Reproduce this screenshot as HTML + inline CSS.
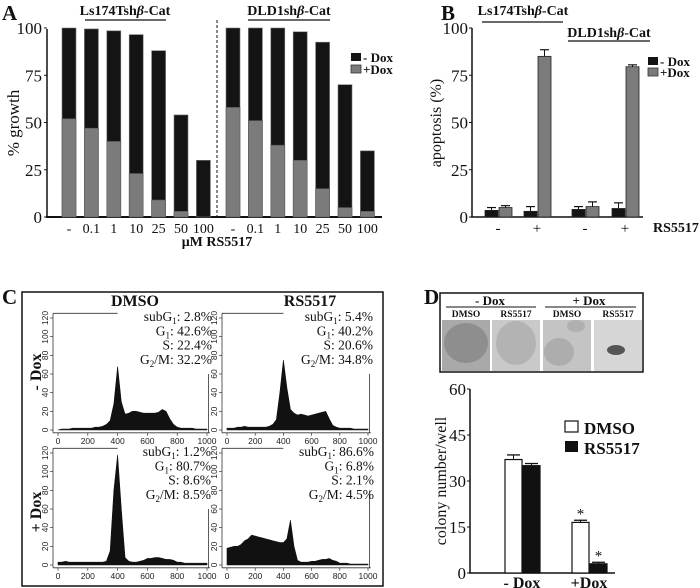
<!DOCTYPE html>
<html><head><meta charset="utf-8">
<style>
html,body{margin:0;padding:0;background:#fff;}
svg{display:block;}
text{font-family:"Liberation Serif",serif;fill:#111;}
.b{font-weight:bold;}
.s{font-family:"Liberation Sans",sans-serif;font-size:8.5px;fill:#222;}
</style></head>
<body>
<svg id="fig" width="700" height="588" viewBox="0 0 700 588" xmlns="http://www.w3.org/2000/svg">
<!-- Panel letters -->
<text x="2" y="20" font-size="21" class="b">A</text>
<text x="441" y="20" font-size="21" class="b">B</text>
<text x="2" y="304" font-size="21" class="b">C</text>
<text x="424" y="304" font-size="21" class="b">D</text>

<g id="pA"></g>
<g id="pB"></g>
<g id="pC"></g>
<g id="pD"></g>
</svg>
<script>
// ---------- Panel A data ----------
const aCats = ["-","0.1","1","10","25","50","100"];
const aLsMinus = [100,99.5,98.5,96.5,88,54,30];
const aLsPlus  = [52,47,40,23,9,3,0];
const aDldMinus = [100,100,100,98,92.5,70,35];
const aDldPlus  = [58,51,38,30,15,5,3];
const aTicks = [0,25,50,75,100];
// ---------- Panel B data ----------
const bCats = ["-","+","-","+"];
const bMinus = [3.5,3,4,4.5];
const bMinusErr = [1.5,2.5,1.5,3];
const bPlus = [5,85,5.5,79.5];
const bPlusErr = [1,3.5,2.5,1];
const bTicks = [0,25,50,75,100];
// ---------- Panel C data (counts per 25-unit bin, 0..1000) ----------
const cTL = [0,1,1,1,2,2,2,2,2,2,3,3,4,6,10,28,68,30,17,18,20,20,19,18,18,18,18,19,22,20,12,6,3,2,2,2,2,1,1,1,1];
const cTR = [2,2,2,3,3,4,3,3,3,3,3,3,4,6,11,40,75,45,22,18,16,17,16,15,16,17,18,19,20,12,5,3,2,2,2,2,1,1,1,1,1];
const cBL = [3,3,4,3,3,3,3,3,3,3,3,3,3,4,15,80,118,60,8,4,3,3,4,5,7,7,8,8,7,6,6,5,3,3,2,2,2,2,2,2,2];
const cBR = [18,19,20,20,22,26,28,32,31,30,29,28,27,26,25,24,24,28,48,20,5,3,3,3,4,4,5,6,6,7,5,4,2,2,2,1,1,1,1,1,1];
const cTicksY = [0,20,40,60,80,100,120];
const cTicksX = [0,200,400,600,800,1000];
// ---------- Panel D data ----------
const dCats = ["- Dox","+Dox"];
const dDmso = [37,16.5];
const dDmsoErr = [1.5,0.7];
const dRs = [35,3];
const dRsErr = [0.7,0.5];
const dTicks = [0,15,30,45,60];

const NS="http://www.w3.org/2000/svg";
function mk(parent,tag,attrs,txt){const e=document.createElementNS(NS,tag);for(const k in attrs)e.setAttribute(k,attrs[k]);if(txt!==undefined)e.textContent=txt;parent.appendChild(e);return e;}

// ===== Panel A =====
(function(){
const g=document.getElementById('pA');
const y0=217,y100=28;
const ya=v=>y0-(y0-y100)*v/100;
const grpStart=[62,226], step=22.4, bw=14;
const xa=(gi,i)=>grpStart[gi]+i*step;
let e;
e=mk(g,'line',{x1:47,y1:ya(0),x2:47,y2:ya(100)+1,stroke:'#111','stroke-width':1.5});

e=mk(g,'line',{x1:46,y1:y0,x2:382,y2:y0,stroke:'#111','stroke-width':2});

aTicks.forEach(t=>{
 mk(g,'line',{x1:44,y1:ya(t),x2:47,y2:ya(t),stroke:'#111'});
 e=mk(g,'text',{x:42,y:ya(t)+6,'font-size':17,'text-anchor':'end'},t);
 
});
const sets=[[aLsMinus,aLsPlus],[aDldMinus,aDldPlus]];
sets.forEach((s,gi)=>{
 aCats.forEach((c,i)=>{
  const x=xa(gi,i);
  e=mk(g,'rect',{x:x,y:ya(s[0][i]),width:bw,height:y0-ya(s[0][i]),fill:'#141414',stroke:'#777','stroke-width':0.6});
  
  if(s[1][i]>0){
  e=mk(g,'rect',{x:x,y:ya(s[1][i]),width:bw,height:y0-ya(s[1][i]),fill:'#7b7b7b',stroke:'#555','stroke-width':0.6});
  }
  e=mk(g,'text',{x:x+bw/2,y:233,'font-size':14,'text-anchor':'middle'},c);
  
 });
});
e=mk(g,'line',{x1:217,y1:20,x2:217,y2:217,stroke:'#111','stroke-dasharray':'3,2','stroke-width':1});

e=mk(g,'text',{x:125,y:15,'font-size':14,'text-anchor':'middle',class:'b'});
e.innerHTML='Ls174Tsh<tspan font-style="italic">β</tspan>-Cat';

mk(g,'line',{x1:85,y1:20,x2:166,y2:20,stroke:'#111','stroke-width':1.2});
e=mk(g,'text',{x:289,y:15,'font-size':14,'text-anchor':'middle',class:'b'});
e.innerHTML='DLD1sh<tspan font-style="italic">β</tspan>-Cat';

mk(g,'line',{x1:248,y1:20,x2:330,y2:20,stroke:'#111','stroke-width':1.2});
e=mk(g,'text',{x:217,y:246,'font-size':14,'text-anchor':'middle',class:'b'},'μM RS5517');

e=mk(g,'text',{x:0,y:0,'font-size':17,'text-anchor':'middle',transform:'translate(19,123) rotate(-90)'},'% growth');

e=mk(g,'rect',{x:351,y:53,width:10,height:8,fill:'#141414'});

e=mk(g,'text',{x:363,y:62,'font-size':13,class:'b'},'- Dox');

e=mk(g,'rect',{x:351,y:65,width:10,height:8,fill:'#7b7b7b',stroke:'#333','stroke-width':0.8});

e=mk(g,'text',{x:363,y:74,'font-size':13,class:'b'},'+Dox');

})();

// ===== Panel B =====
(function(){
const g=document.getElementById('pB');
const y0=217,y100=28;
const ya=v=>y0-(y0-y100)*v/100;
const xs=[485,524,572,612], bw=13;
let e;
e=mk(g,'line',{x1:472,y1:y0,x2:472,y2:ya(100),stroke:'#111','stroke-width':1.5});

e=mk(g,'line',{x1:471,y1:y0,x2:643,y2:y0,stroke:'#111','stroke-width':1.5});

bTicks.forEach(t=>{
 mk(g,'line',{x1:469,y1:ya(t),x2:472,y2:ya(t),stroke:'#111'});
 e=mk(g,'text',{x:468,y:ya(t)+6,'font-size':17,'text-anchor':'end'},t);
 
});
bCats.forEach((c,i)=>{
 const x=xs[i];
 [[bMinus,bMinusErr,'#141414',x,'b-bar-minus-dox'],[bPlus,bPlusErr,'#7b7b7b',x+bw+1,'b-bar-plus-dox']].forEach(([v,er,col,bx,nm])=>{
  const top=ya(v[i]+er[i]);
  mk(g,'line',{x1:bx+bw/2,y1:ya(v[i]),x2:bx+bw/2,y2:top,stroke:'#111'});
  mk(g,'line',{x1:bx+2,y1:top,x2:bx+bw-2,y2:top,stroke:'#111','stroke-width':1.2});
  e=mk(g,'rect',{x:bx,y:ya(v[i]),width:bw,height:y0-ya(v[i]),fill:col,stroke:'#222','stroke-width':0.8});
  
 });
 e=mk(g,'text',{x:x+bw,y:233,'font-size':15,'text-anchor':'middle'},c);
 
});
e=mk(g,'text',{x:653,y:232,'font-size':14,class:'b'},'RS5517');

e=mk(g,'text',{x:523,y:15,'font-size':14,'text-anchor':'middle',class:'b'});
e.innerHTML='Ls174Tsh<tspan font-style="italic">β</tspan>-Cat';

mk(g,'line',{x1:482,y1:22,x2:563,y2:22,stroke:'#111','stroke-width':1.2});
e=mk(g,'text',{x:609,y:37,'font-size':14,'text-anchor':'middle',class:'b'});
e.innerHTML='DLD1sh<tspan font-style="italic">β</tspan>-Cat';

mk(g,'line',{x1:568,y1:41,x2:650,y2:41,stroke:'#111','stroke-width':1.2});
e=mk(g,'text',{x:0,y:0,'font-size':16,'text-anchor':'middle',transform:'translate(441,123) rotate(-90)'},'apoptosis  (%)');

e=mk(g,'rect',{x:648,y:57,width:10,height:8,fill:'#141414'});

e=mk(g,'text',{x:660,y:66,'font-size':13,class:'b'},'- Dox');

e=mk(g,'rect',{x:648,y:68,width:10,height:8,fill:'#7b7b7b',stroke:'#333','stroke-width':0.8});

e=mk(g,'text',{x:660,y:77,'font-size':13,class:'b'},'+Dox');

})();

// ===== Panel C =====
(function(){
const g=document.getElementById('pC');
let e;
e=mk(g,'rect',{x:22,y:292,width:361,height:294,fill:'none',stroke:'#111','stroke-width':1.5});

e=mk(g,'text',{x:135,y:306,'font-size':16,'text-anchor':'middle',class:'b'},'DMSO');

e=mk(g,'text',{x:310,y:306,'font-size':16,'text-anchor':'middle',class:'b'},'RS5517');

e=mk(g,'text',{x:0,y:0,'font-size':16,'text-anchor':'middle',class:'b',transform:'translate(41,372) rotate(-90)'},'- Dox');

e=mk(g,'text',{x:0,y:0,'font-size':16,'text-anchor':'middle',class:'b',transform:'translate(41,512) rotate(-90)'},'+ Dox');

const panels=[
 {d:cTL,x0:58,x1:207,y0:430,y120:318,right:60,stats:['2.8%','42.6%','22.4%','32.2%'],tx:212,name:'c-hist-dmso-minus-dox'},
 {d:cTR,x0:227,x1:368,y0:430,y120:318,right:60,stats:['5.4%','40.2%','20.6%','34.8%'],tx:373,name:'c-hist-rs5517-minus-dox'},
 {d:cBL,x0:58,x1:207,y0:565,y120:453,right:60,stats:['1.2%','80.7%','8.6%','8.5%'],tx:211,name:'c-hist-dmso-plus-dox'},
 {d:cBR,x0:227,x1:368,y0:565,y120:453,right:80,stats:['86.6%','6.8%','2.1%','4.5%'],tx:374,name:'c-hist-rs5517-plus-dox'}];
panels.forEach(p=>{
 const sx=v=>p.x0+(p.x1-p.x0)*v/1000;
 const sy=v=>p.y0-(p.y0-p.y120)*v/120;
 const ax=p.x0-5;
 mk(g,'line',{x1:ax,y1:sy(-3),x2:ax,y2:sy(125),stroke:'#333','stroke-width':0.8});
 mk(g,'line',{x1:ax,y1:sy(125),x2:sx(400),y2:sy(125),stroke:'#333','stroke-width':0.8});
 mk(g,'line',{x1:ax,y1:sy(-3),x2:sx(1020),y2:sy(-3),stroke:'#333','stroke-width':0.8});
 mk(g,'line',{x1:sx(1010),y1:sy(-3),x2:sx(1010),y2:sy(p.right),stroke:'#333','stroke-width':0.8});
 cTicksY.forEach(t=>{
  mk(g,'line',{x1:ax-3,y1:sy(t),x2:ax,y2:sy(t),stroke:'#333','stroke-width':0.7});
  e=mk(g,'text',{x:0,y:0,class:'s','text-anchor':'middle',transform:`translate(${ax-5},${sy(t)}) rotate(-90)`},t);
  
 });
 cTicksX.forEach(t=>{
  mk(g,'line',{x1:sx(t),y1:sy(-3),x2:sx(t),y2:sy(-3)+3,stroke:'#333','stroke-width':0.7});
  e=mk(g,'text',{x:sx(t),y:sy(-3)+11,class:'s','text-anchor':'middle'},t);
  
 });
 let pts=`${sx(0)},${sy(0)} `;
 p.d.forEach((v,i)=>{pts+=`${sx(i*25)},${sy(v)} `;});
 pts+=`${sx(1000)},${sy(0)}`;
 e=mk(g,'polygon',{points:pts,fill:'#111',stroke:'#111','stroke-width':0.6});
 
 const lbl=['subG','G','S:','G'];
 const sub=['1','1','','2'];
 const suf=[':  ',': ','',"/M: "];
 p.stats.forEach((s,i)=>{
  e=mk(g,'text',{x:p.tx,y:p.y120+3+i*14.3,'font-size':13.5,'text-anchor':'end'});
  if(i===2) e.innerHTML='S:  '+s;
  else e.innerHTML=lbl[i]+'<tspan font-size="9" dy="3">'+sub[i]+'</tspan><tspan dy="-3">'+suf[i]+' '+s+'</tspan>';
  
 });
});
})();

// ===== Panel D =====
(function(){
const g=document.getElementById('pD');
let e;
e=mk(g,'rect',{x:440,y:293,width:203,height:79,fill:'#fff',stroke:'#111','stroke-width':1.5});

e=mk(g,'text',{x:490,y:305,'font-size':13,'text-anchor':'middle',class:'b'},'- Dox');

mk(g,'line',{x1:446,y1:307,x2:536,y2:307,stroke:'#111'});
e=mk(g,'text',{x:589,y:305,'font-size':13,'text-anchor':'middle',class:'b'},'+ Dox');

mk(g,'line',{x1:545,y1:307,x2:636,y2:307,stroke:'#111'});
const phx=[442,492,543,594], phn=['DMSO','RS5517','DMSO','RS5517'];
const phc=['#a9a9a9','#c9c9c9','#c4c4c4','#d6d6d6'];
phx.forEach((x,i)=>{
 e=mk(g,'text',{x:x+24,y:317,'font-size':9.5,'text-anchor':'middle',class:'b'},phn[i]);
 
 e=mk(g,'rect',{x:x,y:320,width:48,height:51,fill:phc[i]});
 
});
mk(g,'ellipse',{cx:466,cy:343,rx:22,ry:20,fill:'#8e8e8e'});
mk(g,'ellipse',{cx:516,cy:343,rx:20,ry:22,fill:'#b3b3b3'});
mk(g,'ellipse',{cx:559,cy:352,rx:15,ry:14,fill:'#adadad'});
mk(g,'ellipse',{cx:576,cy:326,rx:9,ry:6,fill:'#b0b0b0'});
mk(g,'ellipse',{cx:616,cy:350,rx:9,ry:5,fill:'#555'});

const y0=573,y60=389;
const ya=v=>y0-(y0-y60)*v/60;
const xs=[505,572], bw=17;
e=mk(g,'line',{x1:470,y1:y0,x2:470,y2:ya(60),stroke:'#111','stroke-width':1.5});

e=mk(g,'line',{x1:469,y1:y0,x2:615,y2:y0,stroke:'#111','stroke-width':1.5});

dTicks.forEach(t=>{
 mk(g,'line',{x1:467,y1:ya(t),x2:470,y2:ya(t),stroke:'#111'});
 e=mk(g,'text',{x:466,y:ya(t)+6,'font-size':17,'text-anchor':'end'},t);
 
});
dCats.forEach((c,i)=>{
 [[dDmso,dDmsoErr,'#fff',xs[i],'d-bar-dmso'],[dRs,dRsErr,'#111',xs[i]+bw+1,'d-bar-rs5517']].forEach(([v,er,col,bx,nm])=>{
  const top=ya(v[i]+er[i]);
  mk(g,'line',{x1:bx+bw/2,y1:ya(v[i]),x2:bx+bw/2,y2:top,stroke:'#111'});
  mk(g,'line',{x1:bx+2,y1:top,x2:bx+bw-2,y2:top,stroke:'#111','stroke-width':1.3});
  e=mk(g,'rect',{x:bx,y:ya(v[i]),width:bw,height:y0-ya(v[i]),fill:col,stroke:'#111','stroke-width':1.2});
  
  if(i===1){
   e=mk(g,'text',{x:bx+bw/2,y:top-2,'font-size':15,'text-anchor':'middle'},'*');
   
  }
 });
 e=mk(g,'text',{x:xs[i]+bw,y:588,'font-size':16,'text-anchor':'middle',class:'b'},c);
 
});
e=mk(g,'text',{x:0,y:0,'font-size':16,'text-anchor':'middle',transform:'translate(446,481) rotate(-90)'},'colony number/well');

e=mk(g,'rect',{x:565,y:421,width:13,height:11,fill:'#fff',stroke:'#111','stroke-width':1.2});

e=mk(g,'text',{x:584,y:434,'font-size':17,class:'b'},'DMSO');

e=mk(g,'rect',{x:565,y:441,width:13,height:11,fill:'#111'});

e=mk(g,'text',{x:584,y:454,'font-size':17,class:'b'},'RS5517');

})();
</script>
</body></html>
